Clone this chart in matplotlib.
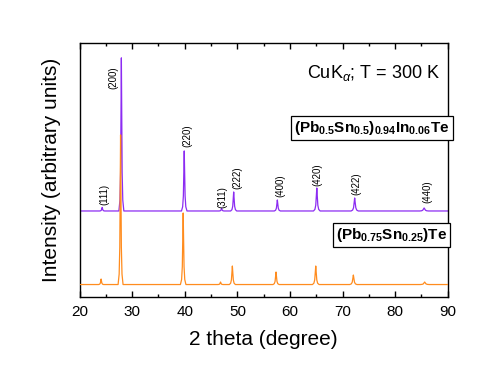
import numpy as np
import matplotlib
matplotlib.use("Agg")
import matplotlib.pyplot as plt
from matplotlib.ticker import MultipleLocator, NullLocator

plt.rcParams["font.family"] = ["Liberation Sans", "DejaVu Sans"]
plt.rcParams["mathtext.fontset"] = "custom"
plt.rcParams["mathtext.rm"] = "Liberation Sans"
plt.rcParams["mathtext.bf"] = "Liberation Sans:bold"
plt.rcParams["mathtext.it"] = "Liberation Sans:italic"

# reflections (hkl) and positions / heights
hkl = ["(111)", "(200)", "(220)", "(311)", "(222)", "(400)", "(420)", "(422)", "(440)"]

# (Pb0.5Sn0.5)0.94In0.06Te  (upper trace)
pos_in = [24.3, 27.95, 39.9, 47.0, 49.3, 57.6, 65.1, 72.3, 85.5]
top_in = [89.5, 239, 146, 88.5, 105, 97, 109, 99, 89]
width_in = [0.9, 0.9, 1.0, 0.9, 1.1, 1.1, 1.2, 1.3, 1.6]
base_in = 86

# (Pb0.75Sn0.25)Te  (lower trace)
pos_sn = [24.1, 27.8, 39.7, 46.8, 49.05, 57.35, 64.9, 72.05, 85.6]
top_sn = [18, 162, 84, 15, 31, 25, 31, 22, 15]
width_sn = [0.9, 0.9, 1.0, 0.9, 1.1, 1.1, 1.2, 1.3, 1.6]
base_sn = 12.5

# shape of one reflection (offset in degrees, fraction of height)
prof_dx = [-0.7, -0.4, -0.22, -0.1, 0.0, 0.1, 0.22, 0.4, 0.7]
prof_frac = [0.0, 0.07, 0.25, 0.65, 1.0, 0.65, 0.25, 0.07, 0.0]

# peak label positions (2 theta, intensity)
lab_x = [24.66, 26.5, 40.44, 47.1, 49.94, 58.1, 65.15, 72.6, 86.1]
lab_y = [103, 219, 161, 100, 119, 111, 122, 113, 105]


def trace(pos, top, width, base):
    xs = [20.0]
    ys = [base]
    for c, t, w in zip(pos, top, width):
        for dx, fr in zip(prof_dx, prof_frac):
            xs.append(c + dx * w * 0.75)
            ys.append(base + fr * (t - base))
    xs.append(90.0)
    ys.append(base)
    return np.array(xs), np.array(ys)


fig = plt.figure(figsize=(4.91, 3.76), dpi=100)
ax = fig.add_axes([0.162, 0.210, 0.750, 0.676])

x_in, y_in = trace(pos_in, top_in, width_in, base_in)
x_sn, y_sn = trace(pos_sn, top_sn, width_sn, base_sn)
ax.plot(x_in, y_in, color="#8C2CF2", lw=0.9, zorder=2)
ax.plot(x_sn, y_sn, color="#FF8C1E", lw=0.9, zorder=3)

for t, lx, ly in zip(hkl, lab_x, lab_y):
    ax.text(lx, ly, t, rotation=90, ha="center", va="center", fontsize=7)

ax.text(0.618, 0.862, r"CuK$_\alpha$; T = 300 K", transform=ax.transAxes,
        ha="left", va="baseline", fontsize=13)
box = dict(boxstyle="square,pad=0.2", fc="white", ec="black", lw=0.9)
ax.text(0.794, 0.665,
        r"(Pb$_{\mathbf{0.5}}$Sn$_{\mathbf{0.5}}$)$_{\mathbf{0.94}}$In$_{\mathbf{0.06}}$Te",
        transform=ax.transAxes, ha="center", va="center", fontsize=11,
        fontweight="bold", bbox=box)
ax.text(0.847, 0.244, r"(Pb$_{\mathbf{0.75}}$Sn$_{\mathbf{0.25}}$)Te",
        transform=ax.transAxes, ha="center", va="center", fontsize=11,
        fontweight="bold", bbox=box)

ax.set_xlim(20, 90)
ax.set_ylim(0, 254)
ax.xaxis.set_major_locator(MultipleLocator(10))
ax.xaxis.set_minor_locator(MultipleLocator(5))
ax.yaxis.set_major_locator(NullLocator())
ax.tick_params(axis="x", which="both", direction="in", top=True, labelsize=11, pad=6)
ax.tick_params(axis="x", which="major", length=4, width=1)
ax.tick_params(axis="x", which="minor", length=2.5, width=1)
for s in ax.spines.values():
    s.set_linewidth(1.0)

ax.set_xlabel("2 theta (degree)", fontsize=15, labelpad=8)
ax.set_ylabel("Intensity (arbitrary units)", fontsize=15, labelpad=13)

fig.savefig("out.png", dpi=100)
